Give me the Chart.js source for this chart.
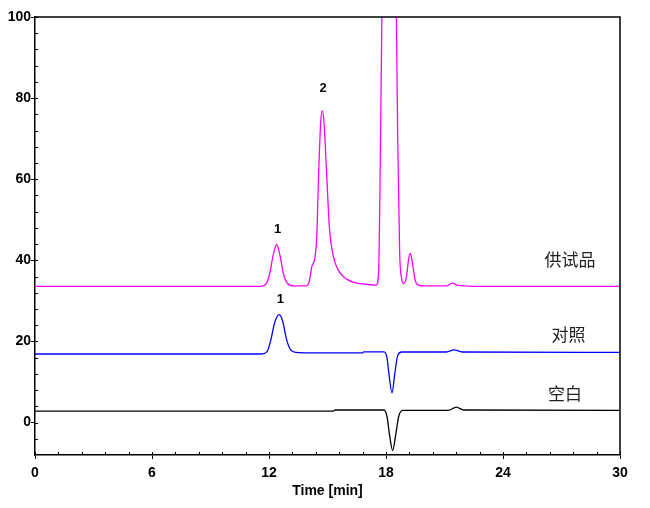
<!DOCTYPE html>
<html>
<head>
<meta charset="utf-8">
<script src="https://cdn.jsdelivr.net/npm/chart.js@4.4.1/dist/chart.umd.min.js"></script>
<style>
  body { margin: 0; background: #fff; }
  canvas { display: block; }
</style>
</head>
<body>
<canvas id="hplcChart" width="650" height="508"></canvas>
<script>
// series names (right-hand labels)
const seriesNames = ['供试品', '对照', '空白'];

// sample trace (magenta), time in min / signal
const sampleTime = [0, 11.6, 11.85, 12.05, 12.2, 12.39, 12.55, 12.75, 12.95, 13.3, 13.9, 14.05, 14.2, 14.35, 14.45, 14.55, 14.65, 14.73, 14.82, 14.95, 15.1, 15.3, 15.6, 16.0, 16.5, 17.0, 17.5, 17.62, 17.72, 17.82, 18.15, 18.5, 18.6, 18.7, 18.8, 18.9, 19.05, 19.15, 19.25, 19.35, 19.5, 19.65, 20.0, 21.1, 21.4, 21.7, 22.5, 30];
const sampleSignal = [33.6, 33.6, 34.2, 37.0, 41.0, 43.9, 41.5, 36.5, 34.3, 33.7, 33.7, 34.5, 38.5, 40.5, 46.0, 62.0, 74.0, 76.9, 74.0, 62.0, 48.0, 41.0, 37.2, 35.3, 34.4, 34.1, 33.9, 37.0, 70.0, 115.0, 260.0, 115.0, 70.0, 42.0, 35.5, 34.3, 36.0, 40.0, 41.7, 39.5, 35.0, 33.9, 33.7, 33.7, 34.4, 33.8, 33.6, 33.6];

// reference trace (blue)
const refTime = [0, 11.6, 11.9, 12.1, 12.3, 12.53, 12.7, 12.9, 13.1, 13.4, 14.0, 16.8, 16.85, 17.9, 18.05, 18.15, 18.31, 18.45, 18.6, 18.8, 21.1, 21.5, 21.9, 30];
const refSignal = [16.9, 16.9, 17.5, 20.5, 24.8, 26.6, 25.0, 20.5, 18.0, 17.3, 17.2, 17.2, 17.45, 17.45, 16.0, 12.0, 7.3, 12.0, 16.5, 17.4, 17.4, 17.9, 17.4, 17.3];

// blank trace (black)
const blankTime = [0, 15.3, 15.4, 17.9, 18.05, 18.18, 18.34, 18.5, 18.65, 18.85, 21.2, 21.6, 22.0, 30];
const blankSignal = [2.8, 2.8, 3.1, 3.1, 1.5, -3.0, -6.9, -3.0, 1.5, 3.0, 3.0, 3.8, 3.1, 3.0];

// peak labels: which series, which point, text
const peakSeries = [0, 0, 1];
const peakIndex = [5, 17, 5];
const peakText = ['1', '2', '1'];

// axis ticks
const xTicks = [0, 6, 12, 18, 24, 30];
const yTicks = [0, 20, 40, 60, 80, 100];

const toPoints = (xs, ys) => xs.map((x, i) => ({ x: x, y: ys[i] }));

const tickFont = { family: '"Liberation Sans", Arial, sans-serif', size: 14, weight: 'bold' };

// frame, minor ticks and text labels
const decorations = {
  id: 'decorations',
  afterDraw(chart) {
    const ctx = chart.ctx;
    const area = chart.chartArea;
    const xs = chart.scales.x;
    const ys = chart.scales.y;
    ctx.save();
    ctx.strokeStyle = '#000';
    ctx.lineWidth = 1.5;
    ctx.beginPath();
    ctx.moveTo(area.left, area.top);
    ctx.lineTo(area.right, area.top);
    ctx.lineTo(area.right, area.bottom);
    ctx.stroke();

    // minor ticks
    ctx.lineWidth = 1;
    ctx.beginPath();
    for (let v = 0; v <= 30.001; v += 1.2) {
      const px = Math.round(xs.getPixelForValue(v)) + 0.5;
      ctx.moveTo(px, area.bottom);
      ctx.lineTo(px, area.bottom - 3);
    }
    for (let v = -4; v <= 100.001; v += 4) {
      const py = Math.round(ys.getPixelForValue(v)) + 0.5;
      ctx.moveTo(area.left, py);
      ctx.lineTo(area.left + 3, py);
    }
    ctx.stroke();

    // peak numbers
    ctx.fillStyle = '#000';
    ctx.font = 'bold 13px "Liberation Sans", Arial, sans-serif';
    ctx.textAlign = 'center';
    ctx.textBaseline = 'bottom';
    const peakLift = [9, 16, 9];
    peakText.forEach((t, i) => {
      const pt = chart.getDatasetMeta(peakSeries[i]).data[peakIndex[i]];
      ctx.fillText(t, pt.x + 1, pt.y - peakLift[i]);
    });

    // series names, set just above each trace's right-hand baseline
    ctx.font = '17px "Noto Sans CJK SC", sans-serif';
    ctx.fillStyle = '#222';
    ctx.textBaseline = 'middle';
    const nameX = [27.44, 27.36, 27.18];
    const nameLift = [27, 18, 17];
    chart.data.datasets.forEach((ds, i) => {
      const last = ds.data[ds.data.length - 1];
      ctx.fillText(seriesNames[i], xs.getPixelForValue(nameX[i]), ys.getPixelForValue(last.y) - nameLift[i]);
    });
    ctx.restore();
  }
};

new Chart(document.getElementById('hplcChart'), {
  type: 'line',
  data: {
    datasets: [
      { label: seriesNames[0], data: toPoints(sampleTime, sampleSignal), borderColor: '#ff00ff' },
      { label: seriesNames[1], data: toPoints(refTime, refSignal), borderColor: '#0000ff' },
      { label: seriesNames[2], data: toPoints(blankTime, blankSignal), borderColor: '#000000' }
    ]
  },
  options: {
    responsive: false,
    animation: false,
    devicePixelRatio: 1,
    layout: { padding: { top: 17, right: 30, left: 0, bottom: 4 } },
    elements: {
      line: { borderWidth: 1.3, cubicInterpolationMode: 'monotone', fill: false },
      point: { radius: 0 }
    },
    plugins: { legend: { display: false }, tooltip: { enabled: false } },
    scales: {
      x: {
        type: 'linear',
        min: 0,
        max: 30,
        afterBuildTicks: s => { s.ticks = xTicks.map(v => ({ value: v })); },
        afterFit: s => { s.height = 49; },
        grid: { drawOnChartArea: false, drawTicks: true, tickLength: 4, color: '#000' },
        border: { display: true, color: '#000', width: 1.5 },
        ticks: { font: tickFont, color: '#000', padding: 6, maxRotation: 0 },
        title: {
          display: true,
          text: 'Time [min]',
          color: '#000',
          font: { family: '"Liberation Sans", Arial, sans-serif', size: 14, weight: 'bold' },
          padding: { top: 0 }
        }
      },
      y: {
        type: 'linear',
        min: -8,
        max: 100,
        afterBuildTicks: s => { s.ticks = yTicks.map(v => ({ value: v })); },
        afterFit: s => { s.width = 35; },
        grid: { drawOnChartArea: false, drawTicks: true, tickLength: 4, color: '#000' },
        border: { display: true, color: '#000', width: 1.5 },
        ticks: { font: tickFont, color: '#000', padding: 0 }
      }
    }
  },
  plugins: [decorations]
});
</script>
</body>
</html>
